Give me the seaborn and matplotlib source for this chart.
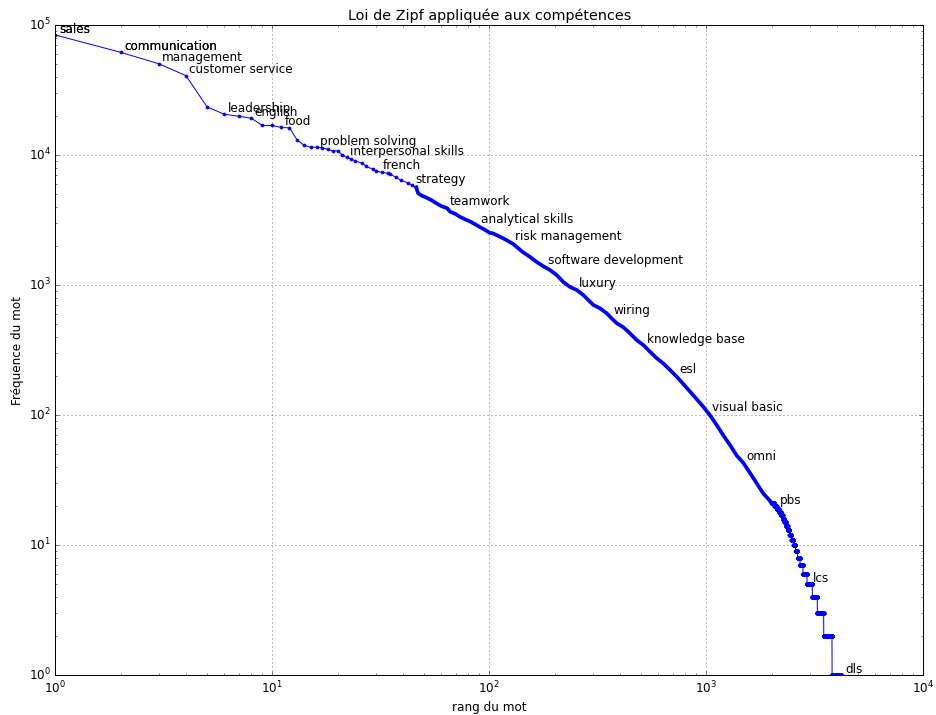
import numpy as np
import pandas as pd
import matplotlib
matplotlib.use("Agg")
import matplotlib.pyplot as plt
import seaborn as sns

# ---- data ----
# frequencies of ranks 1..23 (one value per rank)
head_freq = [83800, 61700, 50400, 40800, 23500, 20600, 19900, 19200, 16900, 16900,
             16300, 16200, 13100, 11900, 11500, 11500, 11400, 11070, 10800, 10750,
             10050, 9610, 9330]

# middle part of the curve (rank, frequency)
mid_rank = [24, 26, 27, 29, 30, 32, 34, 35, 37, 39,
            42, 44, 46, 47, 49, 51, 54, 57, 60, 64,
            66, 70, 73, 77, 82, 86, 91, 96, 100, 104,
            112, 120, 129, 136, 143, 154, 165, 177, 190, 204,
            219, 235, 253, 271, 286, 302, 324, 348, 366, 387,
            415, 445, 478, 513, 550, 591, 634, 680, 730, 783,
            841, 903, 969, 1040, 1117, 1198, 1286, 1381, 1481, 1590,
            1707, 1830, 1966]
mid_freq = [9050, 8650, 8240, 7770, 7540, 7370, 7240, 7150, 6750, 6430,
            6130, 5890, 5650, 5080, 4870, 4730, 4510, 4260, 4060, 3900,
            3670, 3520, 3360, 3220, 3070, 2940, 2780, 2650, 2530, 2500,
            2360, 2220, 2070, 1920, 1790, 1650, 1510, 1400, 1310, 1200,
            1060, 970, 917, 840, 768, 703, 663, 607, 556, 509,
            474, 426, 378, 346, 308, 274, 250, 223, 198, 174,
            152, 133, 116, 100, 84, 70, 59, 49, 43, 36,
            30, 25, 22]

# tail: integer frequency levels and the first rank having that frequency
tail_level = [21, 20, 19, 18, 17, 16, 15, 14, 13, 12, 11, 10, 9, 8, 7, 6, 5, 4, 3, 2, 1]
tail_start = [2000, 2060, 2110, 2160, 2205, 2250, 2290, 2330, 2372, 2417, 2469,
              2522, 2577, 2633, 2703, 2790, 2911, 3079, 3248, 3475, 3796]
last_rank = 4200

label_words = ['sales', 'sales', 'communication', 'communication', 'management',
               'customer service', 'leadership', 'english', 'food', 'problem solving',
               'interpersonal skills', 'french', 'strategy', 'teamwork', 'analytical skills',
               'risk management', 'software development', 'luxury', 'wiring',
               'knowledge base', 'esl', 'visual basic', 'omni', 'pbs', 'lcs', 'dls']
label_ranks = [1, 1, 2, 2, 3, 4, 6, 8, 11, 16, 22, 31, 44, 63, 88, 126, 179, 250,
               360, 511, 723, 1024, 1468, 2095, 2977, 4200]

# ---- build tables ----
head_rank = list(range(1, len(head_freq) + 1))
t_r, t_f = [], []
ends = tail_start[1:] + [last_rank + 1]
for lv, s, e in zip(tail_level, tail_start, ends):
    rr = np.arange(s, e)
    t_r.extend(rr.tolist())
    t_f.extend([lv] * len(rr))

df_dots = pd.DataFrame({'rang': head_rank + [r for r in mid_rank if r <= 46],
                        'freq': head_freq + [f for r, f in zip(mid_rank, mid_freq) if r <= 46]})
df_band = pd.DataFrame({'rang': [r for r in mid_rank if r >= 46] + [t_r[0]],
                        'freq': [f for r, f in zip(mid_rank, mid_freq) if r >= 46] + [t_f[0]]})
df_tail = pd.DataFrame({'rang': [mid_rank[-1]] + t_r, 'freq': [mid_freq[-1]] + t_f})

all_r = np.array(head_rank + mid_rank + t_r, dtype=float)
all_f = np.array(head_freq + mid_freq + t_f, dtype=float)

# ---- style ----
plt.style.use('classic')
plt.rcParams.update({'figure.facecolor': 'white', 'savefig.facecolor': 'white',
                     'font.family': ['DejaVu Sans'], 'font.size': 12})

fig, ax = plt.subplots(figsize=(936 / 72, 715 / 72), dpi=72)
fig.subplots_adjust(left=0.0591, right=0.9864, bottom=0.0555, top=0.965)
ax.set_xscale('log')
ax.set_yscale('log')

sns.lineplot(data=df_dots, x='rang', y='freq', ax=ax, color='b', marker='.',
             markersize=6, markeredgecolor='b', linewidth=1, estimator=None, sort=False,
             legend=False)
sns.lineplot(data=df_band, x='rang', y='freq', ax=ax, color='b', linewidth=3.7,
             estimator=None, sort=False, legend=False)
sns.lineplot(data=df_tail, x='rang', y='freq', ax=ax, color='b', marker='.',
             markersize=6, markeredgecolor='b', linewidth=1, estimator=None, sort=False,
             legend=False)

for w, r in zip(label_words, label_ranks):
    f = float(np.exp(np.interp(np.log(r), np.log(all_r), np.log(all_f))))
    ax.annotate(w, xy=(r, f), xytext=(3.5, 2.3), textcoords='offset points',
                fontsize=12, ha='left', va='baseline', color='black')

ax.set_xlim(1, 1e4)
ax.set_ylim(1, 1e5)
ax.grid(True, which='major', color='k', linestyle=':', linewidth=0.5)
ax.set_title('Loi de Zipf appliquée aux compétences')
ax.set_xlabel('rang du mot')
ax.set_ylabel('Fréquence du mot')

fig.savefig('out.png', dpi=72)
